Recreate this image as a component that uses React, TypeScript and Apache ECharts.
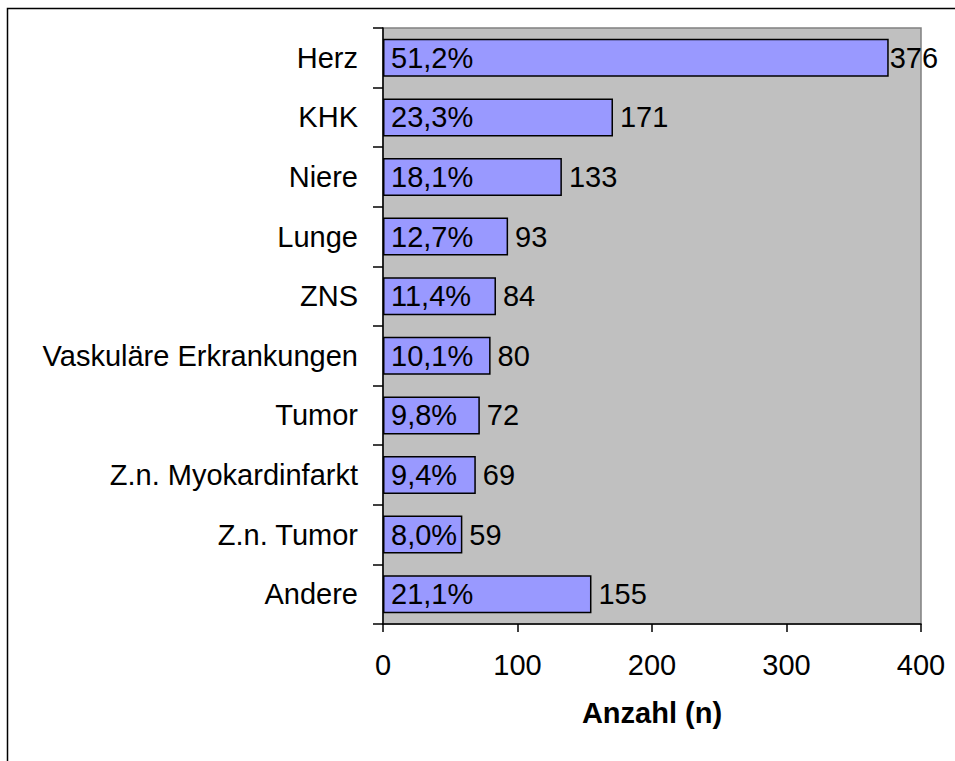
import React, { useEffect, useRef } from "react";
import * as echarts from "echarts";

const categories = [
  "Herz",
  "KHK",
  "Niere",
  "Lunge",
  "ZNS",
  "Vaskuläre Erkrankungen",
  "Tumor",
  "Z.n. Myokardinfarkt",
  "Z.n. Tumor",
  "Andere",
];
const counts = [376, 171, 133, 93, 84, 80, 72, 69, 59, 155];
const percents = ["51,2%", "23,3%", "18,1%", "12,7%", "11,4%", "10,1%", "9,8%", "9,4%", "8,0%", "21,1%"];
const xTicks = [0, 100, 200, 300, 400];
const axisTitle = "Anzahl (n)";

const FONT = '"Liberation Sans", Arial, sans-serif';
const FS = 29;

export default function App() {
  const ref = useRef<HTMLDivElement>(null);
  useEffect(() => {
    if (!ref.current) return;
    const chart = echarts.init(ref.current, undefined, { renderer: "svg" });
    const option: any = {
      animation: false,
      textStyle: { fontFamily: FONT },
      grid: {
        left: 383,
        top: 28,
        width: 538,
        height: 596,
        show: true,
        backgroundColor: "#C0C0C0",
        borderColor: "#808080",
        borderWidth: 1.5,
      },
      graphic: [
        {
          type: "rect",
          shape: { x: 7.5, y: 8.5, width: 1200, height: 1200 },
          style: { fill: "none", stroke: "#000", lineWidth: 1.5 },
          silent: true,
        },
      ],
      xAxis: {
        type: "value",
        min: xTicks[0],
        max: xTicks[xTicks.length - 1],
        interval: 100,
        name: axisTitle,
        nameLocation: "middle",
        nameGap: 74,
        nameTextStyle: { fontFamily: FONT, fontSize: FS, fontWeight: "bold", color: "#000" },
        axisLine: { show: true, lineStyle: { color: "#000", width: 1.5 } },
        axisTick: { show: true, length: 8, lineStyle: { color: "#000", width: 1.5 } },
        axisLabel: { fontFamily: FONT, fontSize: FS, color: "#000", margin: 26 },
        splitLine: { show: false },
      },
      yAxis: {
        type: "category",
        data: categories,
        inverse: true,
        axisLine: { show: true, lineStyle: { color: "#000", width: 1.5 } },
        axisTick: { show: true, length: 10, lineStyle: { color: "#000", width: 1.5 } },
        axisLabel: { fontFamily: FONT, fontSize: FS, color: "#000", margin: 25 },
        splitLine: { show: false },
      },
      series: [
        {
          type: "bar",
          data: counts,
          barWidth: 38,
          itemStyle: { color: "#9999FF", borderColor: "#000", borderWidth: 1.5 },
          label: {
            show: true,
            position: "insideLeft",
            distance: 8,
            fontFamily: FONT,
            fontSize: FS,
            color: "#000",
            formatter: (p: any) => percents[p.dataIndex],
          },
          z: 2,
        },
        {
          type: "bar",
          data: counts.map((v, i) => ({
            value: v,
            label: { distance: i === 0 ? 1 : 7 },
          })),
          barWidth: 38,
          barGap: "-100%",
          itemStyle: { color: "rgba(0,0,0,0)", borderWidth: 0 },
          label: {
            show: true,
            position: "right",
            distance: 7,
            fontFamily: FONT,
            fontSize: FS,
            color: "#000",
          },
          z: 3,
        },
      ],
    };
    chart.setOption(option);
    return () => chart.dispose();
  }, []);
  return (
    <div
      ref={ref}
      style={{ position: "absolute", left: 0, top: 0, width: 955, height: 761 }}
    />
  );
}
